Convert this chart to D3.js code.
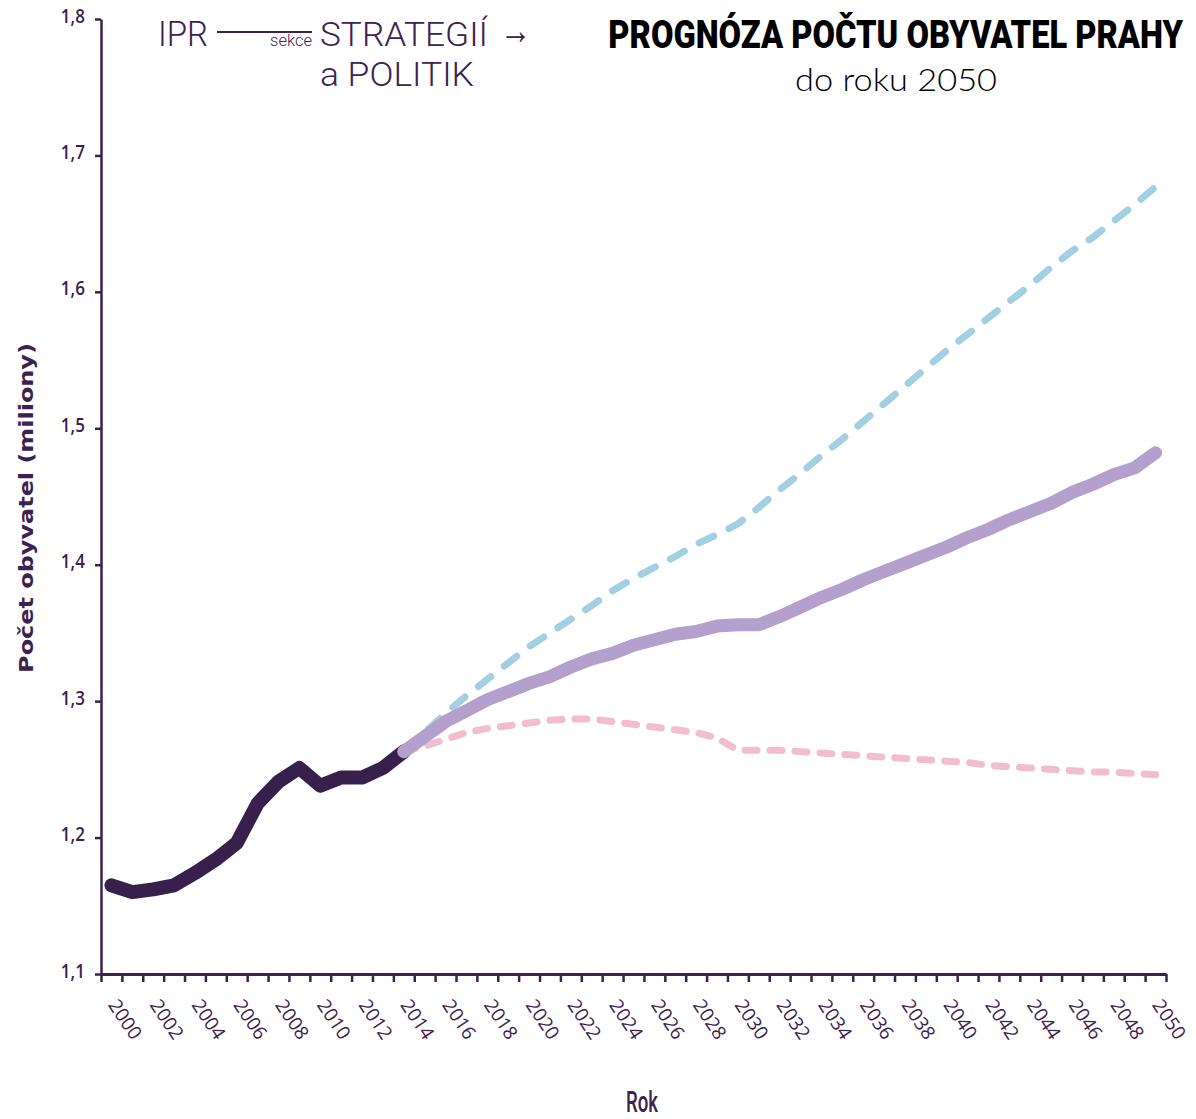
<!DOCTYPE html>
<html>
<head>
<meta charset="utf-8">
<script src="https://cdn.jsdelivr.net/npm/d3@7"></script>
<style>
  body { margin: 0; background: #fff; }
  text { fill: #3b2250; }
</style>
</head>
<body>
<div id="chart"></div>
<script>
// data (miliony obyvatel)
var histYears = d3.range(2000, 2015);
var projYears = d3.range(2014, 2051);

var historie = [1.165, 1.160, 1.162, 1.165, 1.174, 1.184, 1.196, 1.225, 1.241, 1.251,
  1.238, 1.244, 1.244, 1.251, 1.263];

var stredni = [1.263, 1.274, 1.285, 1.293, 1.301, 1.307, 1.313, 1.318, 1.325, 1.331,
  1.335, 1.341, 1.345, 1.349, 1.351, 1.355, 1.356, 1.356, 1.362, 1.369,
  1.376, 1.382, 1.389, 1.395, 1.401, 1.407, 1.413, 1.420, 1.426, 1.433,
  1.439, 1.445, 1.453, 1.459, 1.466, 1.471, 1.482];

var vysoka = [1.263, 1.277, 1.291, 1.304, 1.316, 1.328, 1.340, 1.350, 1.360, 1.370,
  1.381, 1.390, 1.398, 1.406, 1.415, 1.422, 1.430, 1.442, 1.455, 1.467,
  1.480, 1.492, 1.505, 1.518, 1.531, 1.544, 1.557, 1.569, 1.581, 1.593,
  1.605, 1.618, 1.630, 1.640, 1.652, 1.664, 1.677];

var nizka = [1.263, 1.267, 1.272, 1.277, 1.280, 1.282, 1.284, 1.286, 1.287, 1.287,
  1.285, 1.283, 1.281, 1.279, 1.277, 1.273, 1.264, 1.264, 1.264, 1.263,
  1.262, 1.261, 1.260, 1.259, 1.258, 1.257, 1.256, 1.255, 1.253, 1.252,
  1.251, 1.250, 1.249, 1.248, 1.248, 1.247, 1.246];

var yTicks = [1.1, 1.2, 1.3, 1.4, 1.5, 1.6, 1.7, 1.8];
var yearLabels = d3.range(2000, 2051, 2);

var svgWidth = 1196;
var svgHeight = 1119;

var dark = "#3b2250";

var svg = d3.select("#chart")
  .append("svg")
  .attr("width", svgWidth)
  .attr("height", svgHeight);

// squeeze a text along its run to a given length (condensed look)
function squeeze(sel, width, anchor, angle) {
  sel.each(function () {
    var t = d3.select(this);
    var x0 = +t.attr("x"), y0 = +t.attr("y");
    var w = this.getComputedTextLength();
    var k = width / w;
    t.attr("x", 0).attr("y", 0)
      .attr("text-anchor", anchor || "start")
      .attr("transform", `translate(${x0}, ${y0}) rotate(${angle || 0}) scale(${k}, 1)`);
  });
}

// scales: one band per year, ticks on the band edges
var x = d3.scaleLinear()
  .domain([1999.5, 2050.5])
  .range([101, 1166]);

var y = d3.scaleLinear()
  .domain([1.1, 1.8])
  .range([974, 19]);

// y axis
var leftAxis = d3.axisLeft(y)
  .tickValues(yTicks)
  .tickSize(6)
  .tickSizeOuter(0)
  .tickPadding(13)
  .tickFormat(d => d3.format(".1f")(d).replace(".", ","));

var gy = svg.append("g")
  .attr("transform", `translate(${x.range()[0]}, 0)`)
  .call(leftAxis);

gy.select(".domain").attr("stroke", dark).attr("stroke-width", 2.5);
gy.selectAll(".tick line").attr("stroke", dark).attr("stroke-width", 2.5);
gy.selectAll(".tick text")
  .attr("dy", "0.15em")
  .attr("transform", "scale(0.85, 1)")
  .style("font-family", "'Open Sans', sans-serif")
  .style("font-weight", "600")
  .style("font-size", "20px")
  .style("fill", dark);

// x axis (ticks only, labels rotated below)
var bottomAxis = d3.axisBottom(x)
  .tickValues(d3.range(1999.5, 2051, 1))
  .tickSize(8)
  .tickSizeOuter(0)
  .tickFormat("");

var gx = svg.append("g")
  .attr("transform", `translate(0, ${y.range()[0]})`)
  .call(bottomAxis);

gx.select(".domain").attr("stroke", dark).attr("stroke-width", 3);
gx.selectAll(".tick line").attr("stroke", dark).attr("stroke-width", 2.5);

svg.append("g")
  .selectAll("text")
  .data(yearLabels)
  .enter()
  .append("text")
  .attr("transform", d => `translate(${x(d) - 4}, 1005) rotate(56)`)
  .style("font-family", "'Open Sans', sans-serif")
  .style("font-size", "19px")
  .text(d => d);

// lines
var line = d3.line()
  .x(d => x(d[0]))
  .y(d => y(d[1]));

function pairs(ys, vals) {
  return ys.map((yr, i) => [yr, vals[i]]);
}

svg.append("path")
  .datum(pairs(histYears, historie))
  .attr("d", line)
  .attr("fill", "none")
  .attr("stroke", "#38204d")
  .attr("stroke-width", 14)
  .attr("stroke-linejoin", "round")
  .attr("stroke-linecap", "round");

svg.append("path")
  .datum(pairs(projYears, nizka))
  .attr("d", line)
  .attr("fill", "none")
  .attr("stroke", "#f3bdd0")
  .attr("stroke-width", 7)
  .attr("stroke-linecap", "round")
  .attr("stroke-dasharray", "12,13");

svg.append("path")
  .datum(pairs(projYears, vysoka))
  .attr("d", line)
  .attr("fill", "none")
  .attr("stroke", "#a3cfe2")
  .attr("stroke-width", 7)
  .attr("stroke-linecap", "round")
  .attr("stroke-dasharray", "16,17");

svg.append("path")
  .datum(pairs(projYears, stredni))
  .attr("d", line)
  .attr("fill", "none")
  .attr("stroke", "#b3a0cc")
  .attr("stroke-width", 13)
  .attr("stroke-linejoin", "round")
  .attr("stroke-linecap", "round");

// axis titles
svg.append("text")
  .attr("x", 33)
  .attr("y", 508)
  .style("font-family", "'DejaVu Sans', 'Open Sans', sans-serif")
  .style("font-weight", "700")
  .style("font-size", "20px")
  .text("Počet obyvatel (miliony)")
  .call(squeeze, 330, "middle", -90);

svg.append("text")
  .attr("x", 642)
  .attr("y", 1112)
  .style("font-family", "Roboto, sans-serif")
  .style("font-weight", "500")
  .style("font-size", "29px")
  .text("Rok")
  .call(squeeze, 32, "middle");

// title
svg.append("text")
  .attr("x", 1183)
  .attr("y", 48)
  .style("font-family", "Roboto, sans-serif")
  .style("font-weight", "900")
  .style("font-size", "38px")
  .style("fill", "#000")
  .text("PROGNÓZA POČTU OBYVATEL PRAHY")
  .call(squeeze, 575, "end");

svg.append("text")
  .attr("x", 896)
  .attr("y", 91)
  .style("font-family", "Lato, 'Open Sans', sans-serif")
  .style("font-weight", "300")
  .style("font-size", "31px")
  .style("fill", "#000")
  .text("do roku 2050")
  .call(squeeze, 202, "middle");

// logo IPR sekce strategií a politik
var logo = svg.append("g")
  .style("font-family", "Roboto, sans-serif")
  .style("font-weight", "300");

logo.append("text")
  .attr("x", 158).attr("y", 46)
  .style("font-size", "35px")
  .text("IPR")
  .call(squeeze, 50);

logo.append("line")
  .attr("x1", 217).attr("x2", 312)
  .attr("y1", 32).attr("y2", 32)
  .attr("stroke", dark).attr("stroke-width", 2);

logo.append("text")
  .attr("x", 270).attr("y", 46)
  .style("font-size", "16px")
  .text("sekce")
  .call(squeeze, 42);

logo.append("text")
  .attr("x", 320).attr("y", 46)
  .style("font-size", "34px")
  .text("STRATEGIÍ")
  .call(squeeze, 168);

logo.append("text")
  .attr("x", 500).attr("y", 44)
  .style("font-size", "40px")
  .text("→")
  .call(squeeze, 31);

logo.append("text")
  .attr("x", 320).attr("y", 86)
  .style("font-size", "33px")
  .text("a POLITIK")
  .call(squeeze, 154);
</script>
</body>
</html>
